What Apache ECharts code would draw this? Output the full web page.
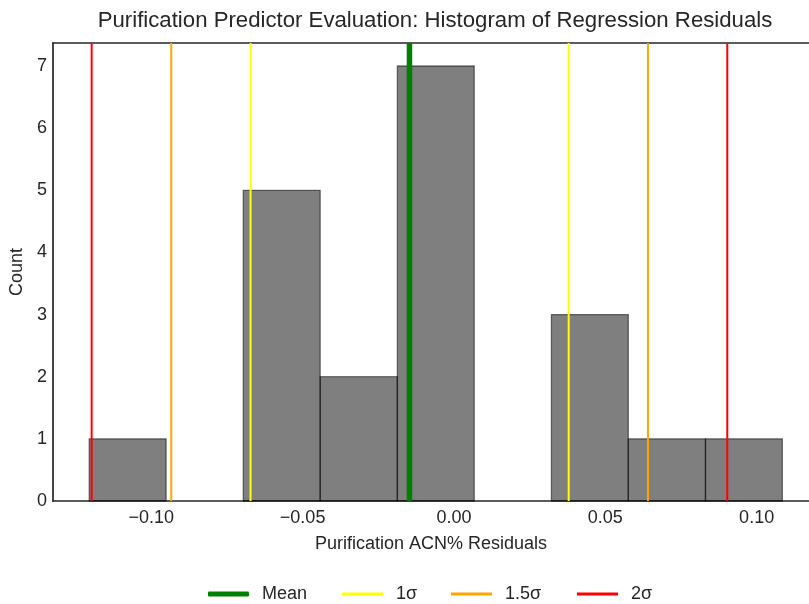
<!DOCTYPE html>
<html>
<head>
<meta charset="utf-8">
<script src="https://cdn.jsdelivr.net/npm/echarts@6/dist/echarts.min.js"></script>
<style>html,body{margin:0;padding:0;background:#fff;}#c{width:809px;height:604px;}</style>
</head>
<body>
<div id="c"></div>
<script>
// Histogram bin edges and counts
const binEdges = [-0.1205, -0.0951, -0.0696, -0.0442, -0.0187, 0.0067, 0.0322, 0.0576, 0.0831, 0.1085];
const counts = [1, 0, 5, 2, 7, 0, 3, 1, 1];
// Reference lines
const meanValue = -0.0147;
const sigma1 = [-0.0672, 0.0379];
const sigma15 = [-0.0934, 0.0641];
const sigma2 = [-0.1197, 0.0903];
const xTicks = [-0.10, -0.05, 0.00, 0.05, 0.10];
const yTicks = [0, 1, 2, 3, 4, 5, 6, 7];

const X_MIN = -0.1325, X_MAX = 0.1173, Y_MAX = 7.37;
const FONT = 'Liberation Sans';
const TXT = '#262626';
const FS = 18;

const bins = counts.map((c, i) => [binEdges[i], binEdges[i + 1], c]).filter(d => d[2] > 0);

function vline(v) { return [[v, 0], [v, Y_MAX]]; }

function lineSeries(name, color, width, values) {
  return values.map(v => ({
    name: name, type: 'line', xAxisIndex: 0, yAxisIndex: 0,
    data: vline(v), symbol: 'none', silent: true, animation: false,
    color: color, lineStyle: { color: color, width: width }, z: 5
  }));
}

const chart = echarts.init(document.getElementById('c'), null, { renderer: 'canvas' });

const legendBase = (name, left, h, icon) => ({
  data: [name], left: left, top: 584, padding: 0, icon: icon,
  itemWidth: 41, itemHeight: h, selectedMode: false,
  textStyle: { fontFamily: FONT, fontSize: FS, color: TXT, padding: [0, 0, 0, 8], lineHeight: 20 }
});

chart.setOption({
  animation: false,
  backgroundColor: '#fff',
  title: {
    text: 'Purification Predictor Evaluation: Histogram of Regression Residuals',
    left: 435, top: 10, padding: 0, textAlign: 'center',
    textStyle: { fontFamily: FONT, fontSize: 22.2, fontWeight: 'normal', color: TXT }
  },
  legend: [
    legendBase('Mean', 208, 5, 'roundRect'),
    legendBase('1σ', 342, 3, 'rect'),
    legendBase('1.5σ', 451, 3, 'rect'),
    legendBase('2σ', 577, 3, 'rect')
  ],
  grid: { left: 52, right: 0, top: 43, bottom: 103, containLabel: false },
  xAxis: [{
    type: 'value', min: X_MIN, max: X_MAX, position: 'bottom',
    name: 'Purification ACN% Residuals', nameLocation: 'middle', nameGap: 34,
    nameTextStyle: { fontFamily: FONT, fontSize: FS, color: TXT },
    axisLine: { show: true, onZero: false, lineStyle: { color: TXT, width: 1.7 } },
    axisTick: { show: false },
    splitLine: { show: false },
    axisLabel: {
      customValues: xTicks, margin: 8, fontFamily: FONT, fontSize: FS, color: TXT,
      formatter: v => (v < 0 ? '\u2212' : '') + Math.abs(v).toFixed(2)
    }
  }, {
    type: 'value', min: X_MIN, max: X_MAX, position: 'top',
    axisLine: { show: true, onZero: false, lineStyle: { color: TXT, width: 1.7 } },
    axisTick: { show: false }, axisLabel: { show: false }, splitLine: { show: false }
  }],
  yAxis: [{
    type: 'value', min: 0, max: Y_MAX,
    name: 'Count', nameLocation: 'middle', nameGap: 23, nameRotate: 90,
    nameTextStyle: { fontFamily: FONT, fontSize: FS, color: TXT },
    axisLine: { show: true, onZero: false, lineStyle: { color: TXT, width: 1.7 } },
    axisTick: { show: false }, splitLine: { show: false },
    axisLabel: { customValues: yTicks, margin: 6, fontFamily: FONT, fontSize: FS, color: TXT }
  }],
  series: [
    {
      type: 'custom', name: 'hist', xAxisIndex: 0, yAxisIndex: 0, z: 2, silent: true,
      data: bins,
      renderItem: function (params, api) {
        const p0 = api.coord([api.value(0), 0]);
        const p1 = api.coord([api.value(1), api.value(2)]);
        return {
          type: 'rect',
          shape: { x: p0[0], y: p1[1], width: p1[0] - p0[0], height: p0[1] - p1[1] },
          style: { fill: 'rgba(0,0,0,0.5)', stroke: 'rgba(0,0,0,0.5)', lineWidth: 1.3 }
        };
      }
    },
    ...lineSeries('1σ', '#ffff00', 2, sigma1),
    ...lineSeries('1.5σ', '#ffa500', 2, sigma15),
    ...lineSeries('2σ', '#ff0000', 2, sigma2),
    ...lineSeries('Mean', '#008000', 5.5, [meanValue])
  ]
});
</script>
</body>
</html>
